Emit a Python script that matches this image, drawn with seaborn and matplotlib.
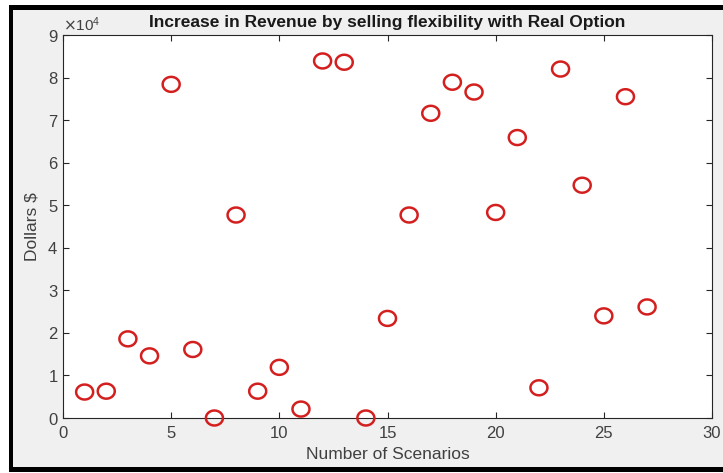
import matplotlib
matplotlib.use("Agg")
import matplotlib.pyplot as plt
import matplotlib.ticker as mticker
from matplotlib.patches import Rectangle
from matplotlib.path import Path
import numpy as np
import seaborn as sns
import pandas as pd

scenarios = list(range(1, 28))
revenue = [6100, 6300, 18600, 14600, 78400, 16100, 0, 47700, 6300, 11900,
           2100, 83900, 83600, 0, 23400, 47700, 71600, 78900, 76600, 48300,
           65900, 7100, 82000, 54700, 24000, 75500, 26100]
x_ticks = [0, 5, 10, 15, 20, 25, 30]
y_ticks = [0, 10000, 20000, 30000, 40000, 50000, 60000, 70000, 80000, 90000]

sns.set_theme(style="white")
plt.rcParams["font.family"] = ["Liberation Sans", "DejaVu Sans"]

df = pd.DataFrame({"Number of Scenarios": scenarios, "Dollars $": revenue})

W, H = 723, 473
fig = plt.figure(figsize=(W / 100, H / 100), dpi=100, facecolor="white")


def px_rect(x0, y0, x1, y1, color, z):
    """Rectangle given in pixel coordinates measured from the top-left corner."""
    return Rectangle((x0 / W, 1 - y1 / H), (x1 - x0) / W, (y1 - y0) / H,
                     transform=fig.transFigure, facecolor=color,
                     edgecolor="none", zorder=z)


# heavy black frame on top, left and bottom; grey window area inside it
fig.patches.append(px_rect(9, 5, W + 5, 472, "black", -20))
fig.patches.append(px_rect(13, 10, W + 5, 467, "#f0f0f0", -10))

ax = fig.add_axes([63 / W, 1 - 418 / H, 649 / W, 383 / H])
ax.set_facecolor("white")

# slightly squashed open circle marker
t = np.linspace(0, 2 * np.pi, 60)
oval = Path(np.column_stack([np.cos(t), 0.88 * np.sin(t)]), closed=True)

sns.scatterplot(data=df, x="Number of Scenarios", y="Dollars $", ax=ax,
                marker=oval, s=150, facecolors="none", edgecolor="#d41f1f",
                linewidth=1.8, legend=False, zorder=3, clip_on=False)

ax.set_xlim(0, 30)
ax.set_ylim(0, 90000)
ax.set_xticks(x_ticks)
ax.set_yticks(y_ticks)

fmt = mticker.ScalarFormatter(useMathText=True)
fmt.set_powerlimits((0, 0))
ax.yaxis.set_major_formatter(fmt)
ax.yaxis.get_offset_text().set_fontsize(11)
ax.yaxis.get_offset_text().set_color("#404040")

for s in ax.spines.values():
    s.set_color("#262626")
    s.set_linewidth(0.8)
ax.tick_params(direction="in", length=4, width=0.8, colors="#262626",
               labelsize=12, labelcolor="#404040",
               top=True, right=True, bottom=True, left=True)
ax.tick_params(axis="x", pad=6)

ax.set_xlabel("Number of Scenarios", fontsize=12.5, color="#404040", labelpad=4)
ax.set_ylabel("Dollars $", fontsize=12.5, color="#404040", labelpad=6)
ax.set_title("Increase in Revenue by selling flexibility with Real Option",
             fontsize=12.5, fontweight="bold", color="#1a1a1a", pad=6)

fig.savefig("out.png", dpi=100, facecolor=fig.get_facecolor())
